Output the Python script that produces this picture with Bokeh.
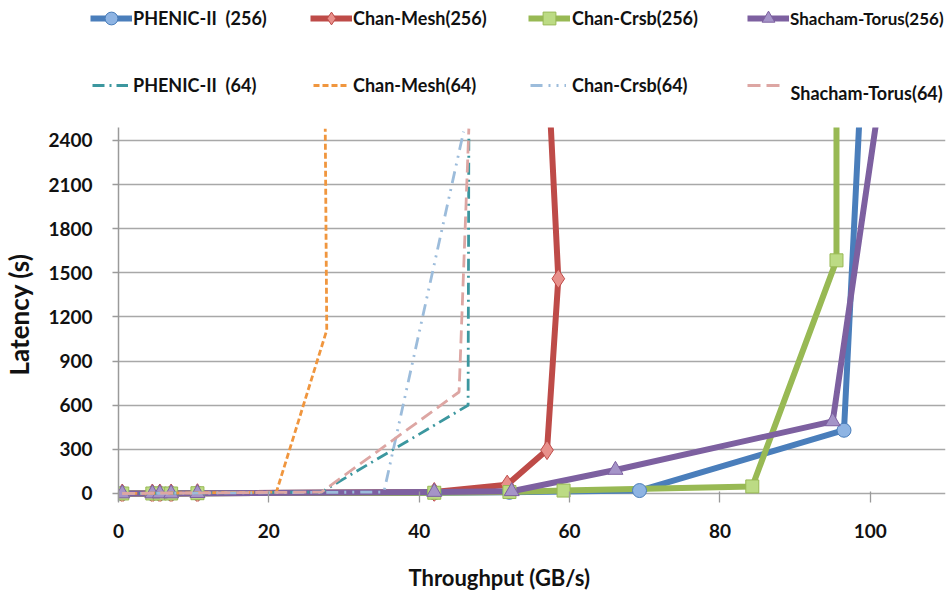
from bokeh.plotting import figure
from bokeh.layouts import column, row
from bokeh.models import Legend, LegendItem, Range1d, FixedTicker, Label
from bokeh.embed import file_html
from bokeh.resources import INLINE

FONT = "Lato"

# ---------------- data ----------------
x_ticks = [0, 20, 40, 60, 80, 100]
y_ticks = [0, 300, 600, 900, 1200, 1500, 1800, 2100, 2400]

phenic256_x = [0.5, 4.5, 5.5, 7.0, 10.5, 42.0, 52.0, 69.3, 96.5, 98.6]
phenic256_y = [0, 0, 0, 0, 2, 5, 8, 20, 430, 2600]
chanmesh256_x = [0.5, 4.5, 5.5, 7.0, 10.5, 42.0, 51.7, 57.0, 58.5, 57.4]
chanmesh256_y = [0, 0, 0, 0, 2, 10, 60, 295, 1460, 2600]
chancrsb256_x = [0.5, 4.5, 5.5, 7.0, 10.5, 42.0, 52.0, 59.2, 84.3, 95.5, 95.5]
chancrsb256_y = [0, 0, 0, 0, 2, 5, 10, 20, 48, 1585, 2600]
shacham256_x = [0.5, 4.5, 5.5, 7.0, 10.5, 42.0, 52.3, 66.1, 95.0, 101.0]
shacham256_y = [0, 0, 0, 0, 2, 10, 15, 160, 490, 2600]

phenic64_x = [0.5, 27.0, 46.5, 46.6]
phenic64_y = [0, 10, 600, 2430]
chanmesh64_x = [0.5, 21.0, 27.7, 27.5]
chanmesh64_y = [0, 10, 1110, 2480]
chancrsb64_x = [0.5, 35.3, 45.9]
chancrsb64_y = [0, 10, 2460]
shacham64_x = [0.5, 27.0, 45.3, 46.6]
shacham64_y = [0, 10, 690, 2480]

labels256 = ["PHENIC-II  (256)", "Chan-Mesh(256)", "Chan-Crsb(256)", "Shacham-Torus(256)"]
labels64 = ["PHENIC-II  (64)", "Chan-Mesh(64)", "Chan-Crsb(64)", "Shacham-Torus(64)"]
x_title = "Throughput  (GB/s)"
y_title = "Latency (s)"

# ---------------- styles ----------------
s256 = [
    (phenic256_x, phenic256_y, "#4A7EBB", "#8EB4E3", "circle", 14),
    (chanmesh256_x, chanmesh256_y, "#BE4B48", "#E8908B", "diamond", 19),
    (chancrsb256_x, chancrsb256_y, "#98B954", "#BCDB84", "square", 13),
    (shacham256_x, shacham256_y, "#7D60A0", "#A594C8", "triangle", 15),
]
s64 = [
    (phenic64_x, phenic64_y, "#3C979F", "12 5 2 5"),
    (chanmesh64_x, chanmesh64_y, "#F0963E", "6 3"),
    (chancrsb64_x, chancrsb64_y, "#9CBCDB", "12 6 2 6 2 6"),
    (shacham64_x, shacham64_y, "#DDA6A3", "13 6"),
]


def draw_series(fig):
    r256 = []
    for xs, ys, col, fill, mk, sz in s256:
        r256.append([fig.line(xs, ys, line_color=col, line_width=6, line_join="round")])
    for (xs, ys, col, fill, mk, sz), rr in zip(s256, r256):
        rr.append(fig.scatter(xs, ys, marker=mk, size=sz, fill_color=fill,
                              line_color=col, line_width=1))
    r64 = []
    for xs, ys, col, dash in s64:
        r64.append([fig.line(xs, ys, line_color=col, line_width=2.8, line_dash=dash)])
    return r256, r64


def strip(height):
    f = figure(width=950, height=height, output_backend="svg", toolbar_location=None,
               x_range=Range1d(0, 950), y_range=Range1d(0, height),
               x_axis_type=None, y_axis_type=None, min_border=0)
    f.outline_line_color = None
    f.grid.visible = False
    return f


# ---------------- main chart ----------------
fig = figure(width=950, height=420, output_backend="svg", toolbar_location=None,
             x_range=Range1d(0, 110), y_range=Range1d(-54.4, 2488),
             min_border_left=118, min_border_right=5, min_border_top=0,
             min_border_bottom=46)
fig.outline_line_color = None
fig.xgrid.visible = False
yt = FixedTicker(ticks=y_ticks)
fig.yaxis.ticker = yt
fig.ygrid.ticker = yt
fig.ygrid.grid_line_color = "#A8A8A8"
fig.ygrid.grid_line_width = 1.6
fig.xaxis.ticker = FixedTicker(ticks=x_ticks)

for ax in (fig.xaxis, fig.yaxis):
    ax.axis_line_color = "#9A9A9A"
    ax.axis_line_width = 1.5
    ax.major_tick_line_color = "#9A9A9A"
    ax.major_tick_line_width = 1.3
    ax.minor_tick_line_color = None
    ax.major_label_text_font = FONT
    ax.major_label_text_font_style = "bold"
    ax.major_label_text_font_size = "19px"
    ax.major_label_text_color = "#111111"

fig.xaxis.axis_line_color = None
fig.xaxis.major_tick_out = 1
fig.xaxis.major_tick_in = 10
fig.xaxis.major_label_standoff = 21

fig.yaxis.major_tick_out = 6
fig.yaxis.major_tick_in = 0
fig.yaxis.major_label_standoff = 20
fig.yaxis.axis_label = y_title
fig.yaxis.axis_label_text_font = FONT
fig.yaxis.axis_label_text_font_style = "bold"
fig.yaxis.axis_label_text_font_size = "26px"
fig.yaxis.axis_label_text_color = "#111111"
fig.yaxis.axis_label_standoff = 10

draw_series(fig)

# ---------------- x-axis title strip ----------------
bottom = strip(46)
bottom.add_layout(Label(x=408, y=16, text=x_title, text_align="left",
                        text_baseline="middle", text_font=FONT,
                        text_font_style="bold", text_font_size="22px",
                        text_color="#111111"))

# ---------------- legend strip ----------------
leg_fig = strip(127)
leg_fig.y_range = Range1d(-20000, -19000)
lr256, lr64 = draw_series(leg_fig)

row1 = [(90, 1, "18px"), (310, 1, "18px"), (528, 2, "18px"), (747, 1, "17px")]
row2 = [(92, 5, "18px"), (313, 4, "18px"), (530, 6, "18px"), (747, 7, "18px")]


def add_legend(label, rends, vx, vy, gw, standoff, size):
    leg = Legend(items=[LegendItem(label=label, renderers=rends)],
                 location=(vx, vy), orientation="horizontal",
                 glyph_width=gw, glyph_height=32, label_standoff=standoff,
                 padding=0, margin=0, spacing=0,
                 border_line_alpha=0, background_fill_alpha=0,
                 label_text_font=FONT, label_text_font_style="bold",
                 label_text_font_size=size, label_text_color="#111111")
    leg_fig.add_layout(leg, "center")


for lab, rends, (vx, so, sz) in zip(labels256, lr256, row1):
    add_legend(lab, rends, vx, 93, 42, so, sz)
for i, (lab, rends, (vx, so, sz)) in enumerate(zip(labels64, lr64, row2)):
    if i == 3:
        # icon and text sit at slightly different heights in the reference
        add_legend("", rends, vx, 26, 36, 0, sz)
        leg_fig.add_layout(Label(x=vx + 43, y=35, x_units="screen", y_units="screen",
                                 text=lab, text_align="left",
                                 text_baseline="middle", text_font=FONT,
                                 text_font_style="bold", text_font_size=sz,
                                 text_color="#111111"))
    else:
        add_legend(lab, rends, vx, 26, 36, so, sz)

p = column(row(leg_fig, spacing=0), fig, row(bottom, spacing=0), spacing=0)
open("out.html", "w").write(file_html(p, INLINE))
